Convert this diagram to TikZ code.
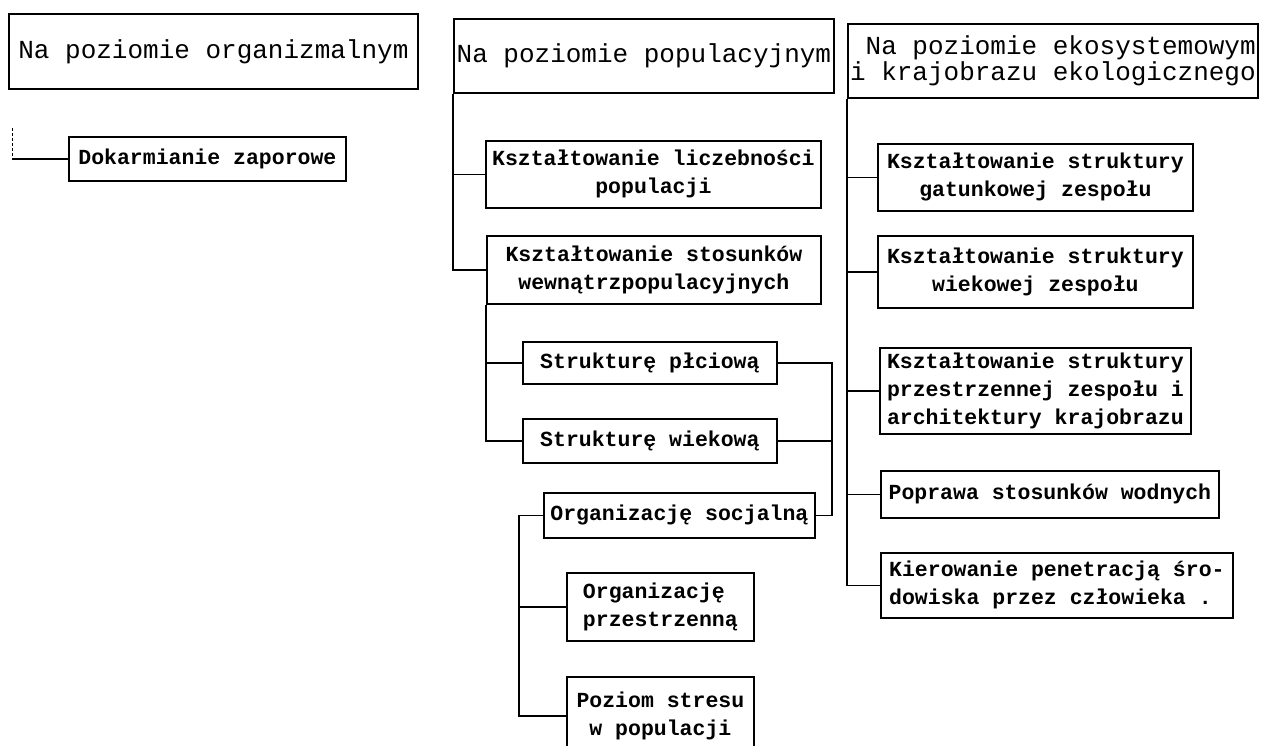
\documentclass[tikz,border=0pt]{standalone}
\usepackage{fontspec}
\setmonofont{Liberation Mono}
\usetikzlibrary{positioning}

\begin{document}
\begin{tikzpicture}[
    x=1pt, y=-1pt,
    headbox/.style={
        draw,
        line width=1.8pt,
        anchor=north west,
        inner sep=0pt,
        font=\ttfamily\fontsize{26}{26}\selectfont
    },
    itembox/.style={
        draw,
        line width=1.8pt,
        anchor=north west,
        inner sep=0pt,
        font=\ttfamily\bfseries\fontsize{21.5}{28}\selectfont
    },
    link/.style={line width=1.8pt},
    faintlink/.style={line width=1pt, densely dashed}
]
\useasboundingbox (0,0) rectangle (1274,745);

% three levels
\node[headbox, minimum width=409pt, minimum height=75pt] (org) at (8,13) {Na poziomie organizmalnym};
\node[headbox, minimum width=380pt, minimum height=74pt] (pop) at (453,18) {Na poziomie populacyjnym};
\node[headbox, minimum width=410pt, minimum height=74pt, align=right] (eko) at (847,23) {Na poziomie ekosystemowym\\i krajobrazu ekologicznego};

% organism level
\node[itembox, minimum width=277pt, minimum height=44pt] (dok) at (68,136) {Dokarmianie zaporowe};

% population level
\node[itembox, minimum width=335pt, minimum height=67pt, align=center] (licz) at (485,140) {Kształtowanie liczebności\\populacji};
\node[itembox, minimum width=334pt, minimum height=68pt, align=center] (stos) at (486,235) {Kształtowanie stosunków\\wewnątrzpopulacyjnych};
\node[itembox, minimum width=254pt, minimum height=42pt] (plc) at (522,341) {Strukturę płciową};
\node[itembox, minimum width=254pt, minimum height=44pt] (wiek) at (522,418) {Strukturę wiekową};
\node[itembox, minimum width=271pt, minimum height=45pt] (soc) at (543,492) {Organizację socjalną};
\node[itembox, minimum width=187pt, minimum height=68pt, align=left] (przes) at (566,572) {Organizację\\przestrzenną};
\node[itembox, minimum width=187pt, minimum height=78pt, align=center] (stres) at (566,676) {Poziom stresu\\w populacji};

% ecosystem level
\node[itembox, minimum width=315pt, minimum height=67pt, align=center] (gat) at (877,143) {Kształtowanie struktury\\gatunkowej zespołu};
\node[itembox, minimum width=315pt, minimum height=72pt, align=center] (wiekz) at (877,235) {Kształtowanie struktury\\wiekowej zespołu};
\node[itembox, minimum width=311pt, minimum height=86pt, align=left] (przz) at (879,347) {Kształtowanie struktury\\przestrzennej zespołu i\\architektury krajobrazu};
\node[itembox, minimum width=338pt, minimum height=47pt] (woda) at (880,470) {Poprawa stosunków wodnych};
\node[itembox, minimum width=352pt, minimum height=65pt, align=left] (kier) at (880,552) {Kierowanie penetracją śro-\\dowiska przez człowieka .};

% connectors
\coordinate (orgtail) at (12,128);
\draw[faintlink] (orgtail) -- (orgtail |- dok.west);
\draw[link] (orgtail |- dok.west) -- (dok.west);

\draw[link] (pop.south west) |- (licz.west);
\draw[link] (pop.south west) |- (stos.west);
\draw[link] (stos.south west) |- (plc.west);
\draw[link] (stos.south west) |- (wiek.west);

\coordinate (rbus) at ([xshift=16pt]soc.east);
\draw[link] (plc.east) -| (rbus) -- (soc.east);
\draw[link] (wiek.east) -- (wiek.east -| rbus);

\coordinate (lbus) at ([xshift=-24pt]soc.west);
\draw[link] (soc.west) -- (lbus) |- (stres.west);
\draw[link] (lbus) |- (przes.west);

\draw[link] (eko.south west) |- (gat.west);
\draw[link] (eko.south west) |- (wiekz.west);
\draw[link] (eko.south west) |- (przz.west);
\draw[link] (eko.south west) |- (woda.west);
\draw[link] (eko.south west) |- (kier.west);
\end{tikzpicture}
\end{document}
